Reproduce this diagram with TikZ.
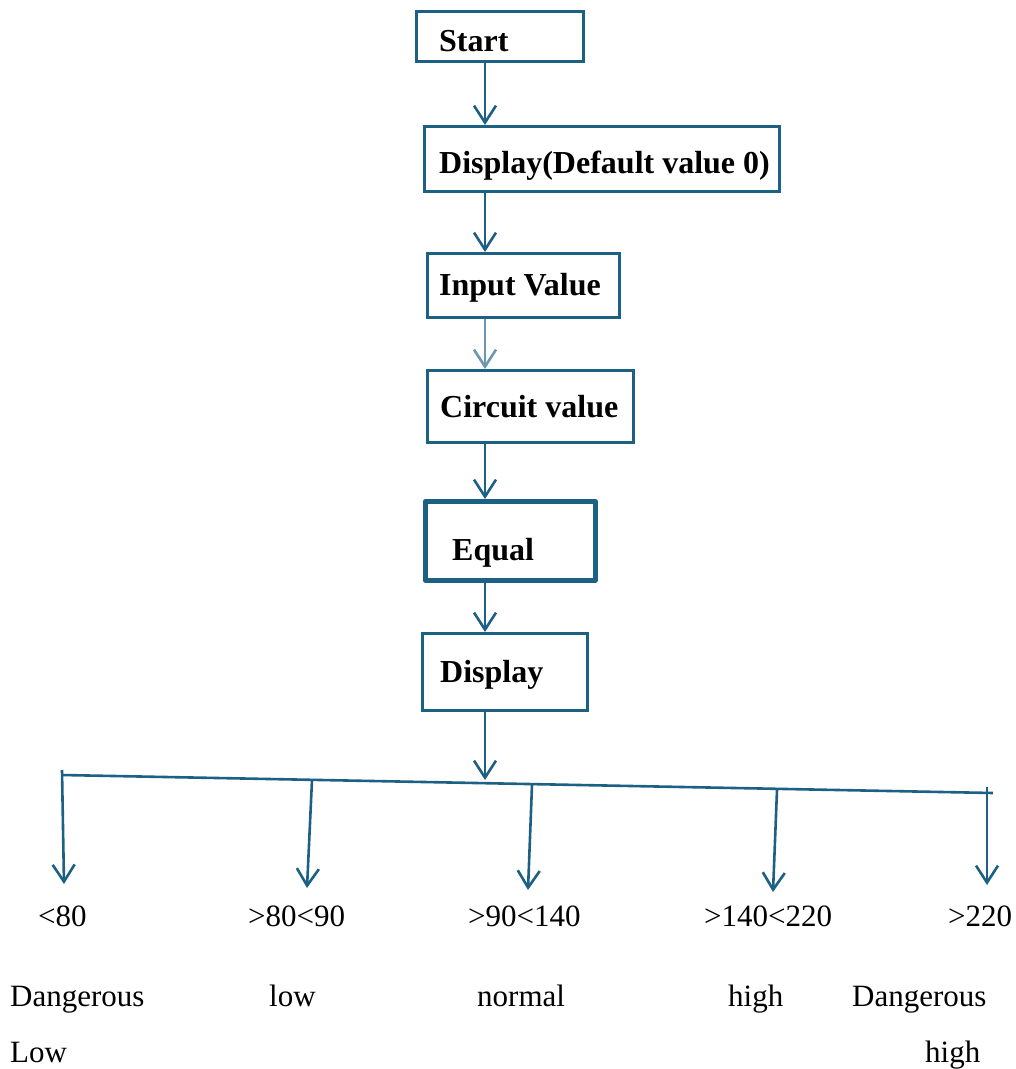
\documentclass[tikz,border=0pt]{standalone}
\usepackage{fontspec}
\setmainfont{Liberation Serif}
\usetikzlibrary{arrows.meta}
\definecolor{flowblue}{RGB}{28,96,132}

\begin{document}
\begin{tikzpicture}[x=1pt,y=-1pt,
	line/.style={draw=flowblue,line width=2.6pt},
	arr/.style={line,-{Straight Barb[length=17pt,width=22pt]}},
	box/.style={line,anchor=north west,inner sep=0pt},
	btxt/.style={anchor=base west,inner sep=0pt,font=\fontsize{32}{38}\selectfont\bfseries},
	lbl/.style={anchor=base west,inner sep=0pt,font=\fontsize{31}{37}\selectfont}]
	\useasboundingbox (0,0) rectangle (1016,1069);

	% boxes of the flow
	\node[box,minimum width=167pt,minimum height=50pt] (N1) at (415,10) {};
	\node[box,minimum width=355pt,minimum height=65pt] (N2) at (423,125) {};
	\node[box,minimum width=192pt,minimum height=64pt] (N3) at (426,252) {};
	\node[box,minimum width=206pt,minimum height=72pt] (N4) at (426,369) {};
	\node[box,line width=4.5pt,line join=round,minimum width=170pt,minimum height=79pt] (N5) at (423,499) {};
	\node[box,minimum width=165pt,minimum height=77pt] (N6) at (421,632) {};

	\node[btxt] (T1) at (439,51) {Start};
	\node[btxt] (T2) at (439,173) {Display(Default value 0)};
	\node[btxt] (T3) at (439,295) {Input Value};
	\node[btxt] (T4) at (440,417) {Circuit value};
	\node[btxt] (T5) at (452,560) {Equal};
	\node[btxt] (T6) at (440,682) {Display};

	\coordinate (spine) at (485,0);
	\foreach \a/\b in {1/2,2/3,4/5,5/6}
		\draw[arr] (N\a.south -| spine) -- (N\b.north -| spine);
	\draw[arr,draw=flowblue!65] (N3.south -| spine) -- (N4.north -| spine);

	% branching bar
	\coordinate (L) at (62,775);
	\coordinate (R) at (993,793);
	\coordinate (J) at (485,780);
	\draw[line] (L) -- (R);
	\draw[arr] (N6.south -| spine) -- (J);

	\foreach \tx/\ty/\ex/\ey [count=\n] in {62/770/64/884, 312/780/307/888, 532/785/528/890, 777/790/773/892, 987/787/987/885}{
		\coordinate (B\n) at (\tx,\ty);
		\coordinate (E\n) at (\ex,\ey);
		\draw[arr] (B\n) -- (E\n);
	}

	% ranges and meanings
	\foreach \x/\t [count=\n] in {38/{<80}, 248/{>80<90}, 468/{>90<140}, 704/{>140<220}, 948/{>220}}
		\node[lbl] (V\n) at (\x,926) {\t};
	\foreach \x/\t [count=\n] in {10/Dangerous, 269/low, 477/normal, 728/high, 852/Dangerous}
		\node[lbl] (M\n) at (\x,1006) {\t};
	\node[lbl] (W1) at (10,1062) {Low};
	\node[lbl] (W2) at (925,1062) {high};
\end{tikzpicture}
\end{document}
